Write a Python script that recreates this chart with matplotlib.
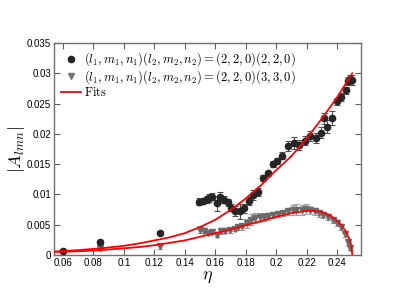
import numpy as np
import matplotlib
matplotlib.use("Agg")
import matplotlib.pyplot as plt
from matplotlib.lines import Line2D

plt.rcParams['mathtext.fontset'] = 'cm'
plt.rcParams['font.family'] = 'Liberation Sans'

# (2,2,0)(2,2,0) data points
eta_a = [0.06, 0.0841, 0.1236,
         0.1494, 0.152, 0.1543, 0.156, 0.1582, 0.1609, 0.163, 0.1657, 0.1683, 0.1705,
         0.1731, 0.1762, 0.1788, 0.1819, 0.1849, 0.188, 0.1915, 0.1946, 0.1977, 0.2007,
         0.2042, 0.2079, 0.2115, 0.2153, 0.2187, 0.2224, 0.2261, 0.2297, 0.2315, 0.2334,
         0.2367, 0.2397, 0.2428, 0.2459, 0.2472, 0.2487, 0.2497]
amp_a = [0.00068, 0.0021, 0.0037,
         0.0088, 0.0089, 0.0092, 0.0094, 0.0096, 0.0085, 0.0095, 0.0091, 0.0087, 0.0078,
         0.0073, 0.0072, 0.0077, 0.0089, 0.0099, 0.0104, 0.0127, 0.0135, 0.0150, 0.0155,
         0.0164, 0.0180, 0.0185, 0.0182, 0.0189, 0.0196, 0.0193, 0.0202, 0.0226, 0.0212,
         0.0226, 0.0254, 0.0261, 0.0272, 0.0287, 0.0290, 0.0289]
err_a = [0.0001, 0.0002, 0.0002,
         0.0006, 0.0005, 0.0006, 0.0007, 0.0006, 0.0012, 0.0009, 0.0006, 0.0006, 0.0006,
         0.0008, 0.0012, 0.0007, 0.0007, 0.0008, 0.0007, 0.0005, 0.0004, 0.0005, 0.0005,
         0.0006, 0.0008, 0.0010, 0.0008, 0.0008, 0.0008, 0.0008, 0.0009, 0.0009, 0.0011,
         0.0011, 0.0006, 0.0006, 0.0006, 0.0007, 0.0008, 0.0008]

# (2,2,0)(3,3,0) data points
eta_b = [0.06, 0.0841, 0.1236,
         0.1499, 0.1525, 0.1553, 0.1582, 0.1609, 0.1635, 0.1665, 0.1696, 0.1727, 0.1753,
         0.1779, 0.1806, 0.1832, 0.186, 0.1893, 0.1919, 0.195, 0.1981, 0.2014, 0.2046,
         0.2077, 0.2108, 0.2134, 0.2167, 0.2196, 0.2222, 0.2253, 0.2283, 0.2309, 0.2342,
         0.2371, 0.2397, 0.2424, 0.2452, 0.2474, 0.2485]
amp_b = [0.0004, 0.0012, 0.0014,
         0.0042, 0.0040, 0.0037, 0.0038, 0.0033, 0.0039, 0.0040, 0.0041, 0.0043, 0.0046,
         0.0047, 0.0052, 0.0058, 0.0061, 0.0062, 0.0063, 0.0064, 0.0066, 0.0067, 0.0069,
         0.0072, 0.0074, 0.0075, 0.0074, 0.0076, 0.0074, 0.0072, 0.0069, 0.0066, 0.0062,
         0.0057, 0.0052, 0.0046, 0.0034, 0.0022, 0.0012]
err_b = [0.0001, 0.0002, 0.0005,
         0.0005, 0.0004, 0.0004, 0.0004, 0.0004, 0.0004, 0.0004, 0.0004, 0.0004, 0.0005,
         0.0006, 0.0007, 0.0009, 0.0008, 0.0008, 0.0007, 0.0006, 0.0005, 0.0005, 0.0004,
         0.0006, 0.0008, 0.0009, 0.0008, 0.0008, 0.0006, 0.0006, 0.0006, 0.0005, 0.0005,
         0.0005, 0.0005, 0.0005, 0.0005, 0.0005, 0.0004]

# fit curves
fit_eta_a = [0.054, 0.07, 0.085, 0.1, 0.11, 0.12, 0.13, 0.14, 0.15, 0.16, 0.17, 0.18,
             0.19, 0.2, 0.21, 0.22, 0.23, 0.24, 0.25]
fit_amp_a = [0.00055, 0.0008, 0.0011, 0.0015, 0.0019, 0.0024, 0.0029, 0.0036, 0.0046,
             0.0058, 0.0074, 0.0093, 0.0115, 0.0140, 0.0163, 0.0192, 0.0225, 0.0260, 0.0300]
fit_eta_b = [0.054, 0.07, 0.085, 0.1, 0.11, 0.12, 0.13, 0.14, 0.15, 0.16, 0.17, 0.18,
             0.19, 0.2, 0.21, 0.215, 0.22, 0.225, 0.23, 0.235, 0.24, 0.243, 0.246,
             0.248, 0.249, 0.2497, 0.25]
fit_amp_b = [0.0005, 0.0006, 0.0008, 0.0011, 0.0013, 0.0016, 0.0020, 0.0024, 0.0030,
             0.0036, 0.0042, 0.0049, 0.0056, 0.0063, 0.0069, 0.0071, 0.0073, 0.0073,
             0.0071, 0.0066, 0.0057, 0.0049, 0.0038, 0.0027, 0.0019, 0.001, 0.0]

fig = plt.figure(figsize=(4.15, 3.01), dpi=100)
ax = fig.add_axes([0.130, 0.153, 0.740, 0.704])

ax.errorbar(eta_b, amp_b, yerr=err_b, fmt='v', color='#6a6a6a', ms=4.5, mec='#6a6a6a',
            ecolor='#a0a0a0', elinewidth=0.8, capsize=2.5, capthick=0.8, zorder=2)
ax.errorbar(eta_a, amp_a, yerr=err_a, fmt='o', color='#252525', ms=4.5,
            ecolor='#505050', elinewidth=0.8, capsize=2.5, capthick=0.8, zorder=3)
fit_line, = ax.plot(fit_eta_a, fit_amp_a, color='red', lw=1.3, zorder=4)
ax.plot(fit_eta_b, fit_amp_b, color='red', lw=1.3, zorder=4)

ax.set_xlim(0.0541, 0.2558)
ax.set_ylim(0, 0.035)
ax.set_xticks([0.06, 0.08, 0.1, 0.12, 0.14, 0.16, 0.18, 0.2, 0.22, 0.24])
ax.set_xticklabels(['0.06', '0.08', '0.1', '0.12', '0.14', '0.16', '0.18', '0.2', '0.22', '0.24'])
ax.set_yticks([0, 0.005, 0.01, 0.015, 0.02, 0.025, 0.03, 0.035])
ax.set_yticklabels(['0', '0.005', '0.01', '0.015', '0.02', '0.025', '0.03', '0.035'])
ax.tick_params(direction='in', top=True, right=True, length=4, width=0.8,
               color='#606060', labelsize=7, pad=2)
for s in ax.spines.values():
    s.set_color('#707070')
    s.set_linewidth(1.0)

ax.set_xlabel(r'$\eta$', fontsize=13, labelpad=0)
ax.set_ylabel(r'$|A_{lmn}|$', fontsize=13, labelpad=0)

h_a = Line2D([], [], ls='none', marker='o', color='#252525', ms=4.5)
h_b = Line2D([], [], ls='none', marker='v', color='#777777', ms=4.5)
ax.legend([h_a, h_b, fit_line],
          [r'$(l_1,m_1,n_1)(l_2,m_2,n_2)=(2,2,0)(2,2,0)$',
           r'$(l_1,m_1,n_1)(l_2,m_2,n_2)=(2,2,0)(3,3,0)$',
           r'$\mathrm{Fits}$'],
          loc='upper left', frameon=False, fontsize=9, handlelength=1.6,
          handletextpad=0.2, labelspacing=0.0, borderaxespad=0.2)

fig.savefig('out.png', dpi=100)
